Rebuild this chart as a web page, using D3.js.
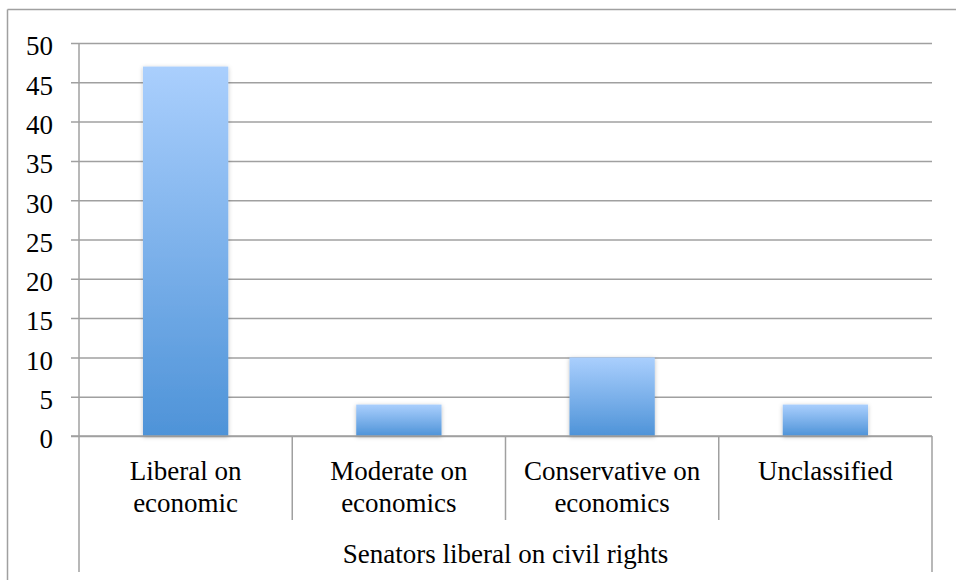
<!DOCTYPE html>
<html>
<head>
<meta charset="utf-8">
<script src="https://cdn.jsdelivr.net/npm/d3@7"></script>
<style>
  html, body { margin: 0; padding: 0; background: #fff; }
  svg { display: block; }
  text { font-family: "Liberation Serif", "Times New Roman", serif; fill: #000; }
</style>
</head>
<body>
<svg id="chart" width="956" height="580"></svg>
<script>
// Senators liberal on civil rights, split by economic stance
const categories = ["Liberal on\neconomic", "Moderate on\neconomics", "Conservative on\neconomics", "Unclassified"];
const values = [47, 4, 10, 4];
const groupLabel = "Senators liberal on civil rights";
const yTicks = [0, 5, 10, 15, 20, 25, 30, 35, 40, 45, 50];

const svg = d3.select("#chart");
const W = 956, H = 580;
const plotL = 79, plotR = 932, plotT = 43, plotB = 436;
const catRowBottom = 520, groupRowBottom = 572;
const gridColor = "#a0a0a0";
const fontSize = 27;

// outer frame (top and left edges)
svg.append("line").attr("x1", 7.5).attr("x2", W).attr("y1", 9.5).attr("y2", 9.5)
  .attr("stroke", gridColor).attr("stroke-width", 1.5);
svg.append("line").attr("x1", 7.5).attr("x2", 7.5).attr("y1", 9.5).attr("y2", H)
  .attr("stroke", gridColor).attr("stroke-width", 1.5);

const x = d3.scaleBand().domain(categories).range([plotL, plotR]).paddingInner(0).paddingOuter(0);
const y = d3.scaleLinear().domain([0, 50]).range([plotB, plotT]);

const defs = svg.append("defs");
const grad = defs.append("linearGradient").attr("id", "barFill")
  .attr("x1", 0).attr("y1", 0).attr("x2", 0).attr("y2", 1);
grad.append("stop").attr("offset", "0%").attr("stop-color", "#aacffd");
grad.append("stop").attr("offset", "100%").attr("stop-color", "#4e93d8");

const shadow = defs.append("filter").attr("id", "barShadow")
  .attr("x", "-20%").attr("y", "-20%").attr("width", "140%").attr("height", "140%");
shadow.append("feDropShadow").attr("dx", 0).attr("dy", 1).attr("stdDeviation", 2)
  .attr("flood-color", "#000").attr("flood-opacity", 0.25);

// horizontal gridlines with left tick marks
const yAxis = d3.axisLeft(y).tickValues(yTicks).tickSize(plotR - plotL + 8)
  .tickFormat(d3.format("d"));
const gy = svg.append("g").attr("transform", `translate(${plotR},0)`).call(yAxis);
gy.select(".domain").remove();
gy.selectAll(".tick line").attr("stroke", gridColor).attr("stroke-width", 1.5);
gy.selectAll(".tick text").attr("font-size", fontSize).attr("x", -(plotR - plotL) - 26)
  .attr("dy", "0.44em")
  .style("font-family", "'Liberation Serif', serif");

// y axis line
svg.append("line").attr("x1", plotL).attr("x2", plotL).attr("y1", plotT).attr("y2", plotB)
  .attr("stroke", gridColor).attr("stroke-width", 1.5);

// bars
const barW = x.bandwidth() * 0.40;
svg.append("g").selectAll("rect").data(values).join("rect")
  .attr("x", (d, i) => x(categories[i]) + (x.bandwidth() - barW) / 2)
  .attr("y", d => y(d))
  .attr("width", barW)
  .attr("height", d => y(0) - y(d))
  .attr("fill", "url(#barFill)")
  .attr("filter", "url(#barShadow)");

// baseline drawn over the bars
svg.append("line").attr("x1", plotL - 8).attr("x2", plotR).attr("y1", plotB).attr("y2", plotB)
  .attr("stroke", gridColor).attr("stroke-width", 1.5);

// category separators
const seps = categories.map(c => x(c)).concat([plotR]);
seps.forEach((sx, i) => {
  const outer = i === 0 || i === seps.length - 1;
  svg.append("line").attr("x1", sx).attr("x2", sx).attr("y1", plotB)
    .attr("y2", outer ? groupRowBottom : catRowBottom)
    .attr("stroke", gridColor).attr("stroke-width", 1.5);
});

// category labels
categories.forEach(c => {
  const lines = c.split("\n");
  const t = svg.append("text").attr("text-anchor", "middle").attr("font-size", fontSize);
  lines.forEach((ln, j) => {
    t.append("tspan").attr("x", x(c) + x.bandwidth() / 2).attr("y", 480 + j * 32).text(ln);
  });
});

// group label
svg.append("text").attr("x", (plotL + plotR) / 2).attr("y", 563).attr("text-anchor", "middle")
  .attr("font-size", fontSize).text(groupLabel);
</script>
</body>
</html>
